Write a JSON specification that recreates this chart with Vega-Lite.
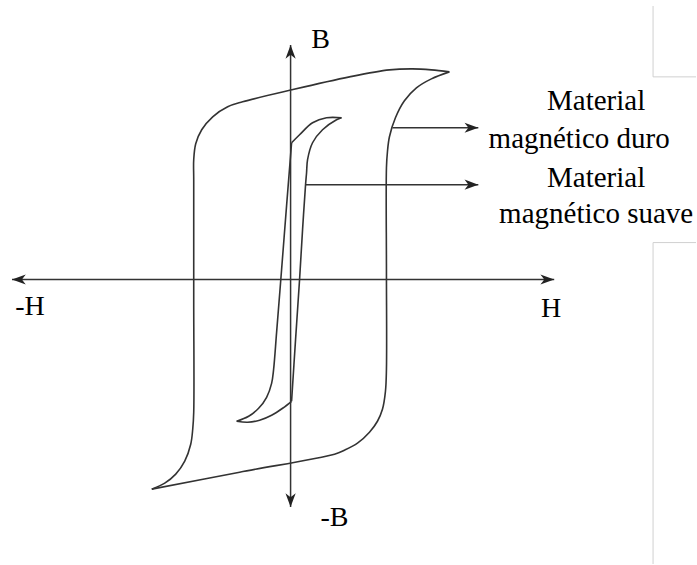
{
  "$schema": "https://vega.github.io/schema/vega-lite/v6.json",
  "width": 697,
  "height": 565,
  "autosize": {"type": "fit", "contains": "padding"},
  "padding": 0,
  "background": "white",
  "view": {"stroke": null},
  "datasets": {
    "curves": [
      {"path": "hard_upper", "i": 0, "H": -139, "B": -210},
      {"path": "hard_upper", "i": 1, "H": -126, "B": -204},
      {"path": "hard_upper", "i": 2, "H": -115, "B": -195},
      {"path": "hard_upper", "i": 3, "H": -106, "B": -182},
      {"path": "hard_upper", "i": 4, "H": -100, "B": -165},
      {"path": "hard_upper", "i": 5, "H": -98, "B": -150},
      {"path": "hard_upper", "i": 6, "H": -97, "B": -133},
      {"path": "hard_upper", "i": 7, "H": -97, "B": -20},
      {"path": "hard_upper", "i": 8, "H": -97, "B": 100},
      {"path": "hard_upper", "i": 9, "H": -97, "B": 120},
      {"path": "hard_upper", "i": 10, "H": -95, "B": 136},
      {"path": "hard_upper", "i": 11, "H": -89, "B": 150},
      {"path": "hard_upper", "i": 12, "H": -78, "B": 163},
      {"path": "hard_upper", "i": 13, "H": -63, "B": 173},
      {"path": "hard_upper", "i": 14, "H": -48, "B": 178},
      {"path": "hard_upper", "i": 15, "H": 1, "B": 190},
      {"path": "hard_upper", "i": 16, "H": 59, "B": 203},
      {"path": "hard_upper", "i": 17, "H": 99, "B": 210},
      {"path": "hard_upper", "i": 18, "H": 122, "B": 211},
      {"path": "hard_upper", "i": 19, "H": 141, "B": 210},
      {"path": "hard_upper", "i": 20, "H": 159, "B": 208},
      {"path": "hard_lower", "i": 0, "H": 159, "B": 208},
      {"path": "hard_lower", "i": 1, "H": 141, "B": 201},
      {"path": "hard_lower", "i": 2, "H": 126, "B": 192},
      {"path": "hard_lower", "i": 3, "H": 114, "B": 179},
      {"path": "hard_lower", "i": 4, "H": 105, "B": 162},
      {"path": "hard_lower", "i": 5, "H": 99, "B": 143},
      {"path": "hard_lower", "i": 6, "H": 97, "B": 128},
      {"path": "hard_lower", "i": 7, "H": 96, "B": 112},
      {"path": "hard_lower", "i": 8, "H": 96, "B": 10},
      {"path": "hard_lower", "i": 9, "H": 96, "B": -90},
      {"path": "hard_lower", "i": 10, "H": 95, "B": -112},
      {"path": "hard_lower", "i": 11, "H": 92, "B": -130},
      {"path": "hard_lower", "i": 12, "H": 87, "B": -142},
      {"path": "hard_lower", "i": 13, "H": 79, "B": -153},
      {"path": "hard_lower", "i": 14, "H": 67, "B": -164},
      {"path": "hard_lower", "i": 15, "H": 54, "B": -171},
      {"path": "hard_lower", "i": 16, "H": 44, "B": -175},
      {"path": "hard_lower", "i": 17, "H": -51, "B": -193},
      {"path": "hard_lower", "i": 18, "H": -139, "B": -210},
      {"path": "soft_top", "i": 0, "H": 51, "B": 162},
      {"path": "soft_top", "i": 1, "H": 36, "B": 162},
      {"path": "soft_top", "i": 2, "H": 22, "B": 157},
      {"path": "soft_top", "i": 3, "H": 9, "B": 145},
      {"path": "soft_top", "i": 4, "H": 1, "B": 137},
      {"path": "soft_left", "i": 0, "H": 1, "B": 137},
      {"path": "soft_left", "i": 1, "H": -4, "B": 74},
      {"path": "soft_left", "i": 2, "H": -9, "B": 10},
      {"path": "soft_left", "i": 3, "H": -14, "B": -53},
      {"path": "soft_left", "i": 4, "H": -17, "B": -90},
      {"path": "soft_left", "i": 5, "H": -19, "B": -104},
      {"path": "soft_left", "i": 6, "H": -24, "B": -118},
      {"path": "soft_left", "i": 7, "H": -32, "B": -129},
      {"path": "soft_left", "i": 8, "H": -42, "B": -137},
      {"path": "soft_left", "i": 9, "H": -54, "B": -142},
      {"path": "soft_bottom", "i": 0, "H": -54, "B": -142},
      {"path": "soft_bottom", "i": 1, "H": -43, "B": -143},
      {"path": "soft_bottom", "i": 2, "H": -31, "B": -141},
      {"path": "soft_bottom", "i": 3, "H": -19, "B": -136},
      {"path": "soft_bottom", "i": 4, "H": -8, "B": -129},
      {"path": "soft_bottom", "i": 5, "H": 1, "B": -122},
      {"path": "soft_right", "i": 0, "H": 1, "B": -122},
      {"path": "soft_right", "i": 1, "H": 5, "B": -60},
      {"path": "soft_right", "i": 2, "H": 9, "B": 0},
      {"path": "soft_right", "i": 3, "H": 12, "B": 50},
      {"path": "soft_right", "i": 4, "H": 15, "B": 95},
      {"path": "soft_right", "i": 5, "H": 16, "B": 107},
      {"path": "soft_right", "i": 6, "H": 17, "B": 120},
      {"path": "soft_right", "i": 7, "H": 22, "B": 137},
      {"path": "soft_right", "i": 8, "H": 32, "B": 150},
      {"path": "soft_right", "i": 9, "H": 46, "B": 160},
      {"path": "soft_right", "i": 10, "H": 51, "B": 162}
    ],
    "segments": [
      {"name": "H axis", "H": -279, "H2": 264, "B": 0, "B2": 0},
      {"name": "B axis", "H": 0, "H2": 0, "B": 235, "B2": -228},
      {"name": "hard pointer", "H": 102, "H2": 188, "B": 152, "B2": 152},
      {"name": "soft pointer", "H": 15, "H2": 188, "B": 95, "B2": 95}
    ],
    "frame": [
      {"H": 363, "H2": 363, "B": 274, "B2": 203},
      {"H": 363, "H2": 406, "B": 203, "B2": 203},
      {"H": 363, "H2": 406, "B": 37, "B2": 37},
      {"H": 363, "H2": 363, "B": 37, "B2": -285}
    ],
    "heads_right": [
      {"H": 188, "B": 152},
      {"H": 188, "B": 95},
      {"H": 264, "B": 0}
    ],
    "heads_left": [{"H": -279, "B": 0}],
    "heads_up": [{"H": 0, "B": 235}],
    "heads_down": [{"H": 0, "B": -228}],
    "axis_labels": [
      {"label": "B", "H": 30, "B": 232},
      {"label": "-B", "H": 44, "B": -247},
      {"label": "-H", "H": -261, "B": -36},
      {"label": "H", "H": 261, "B": -38}
    ],
    "notes": [
      {"label": "Material", "H": 306, "B": 170},
      {"label": "magnético duro", "H": 289, "B": 132},
      {"label": "Material", "H": 306, "B": 93},
      {"label": "magnético suave", "H": 306, "B": 57}
    ]
  },
  "encoding": {
    "x": {"field": "H", "type": "quantitative", "scale": {"domain": [-291, 406], "nice": false, "zero": false}, "axis": null},
    "y": {"field": "B", "type": "quantitative", "scale": {"domain": [-285, 280], "nice": false, "zero": false}, "axis": null}
  },
  "layer": [
    {
      "data": {"name": "frame"},
      "mark": {"type": "rule", "stroke": "#d0d0d0", "strokeWidth": 1},
      "encoding": {"x2": {"field": "H2"}, "y2": {"field": "B2"}}
    },
    {
      "data": {"name": "segments"},
      "mark": {"type": "rule", "stroke": "#333333", "strokeWidth": 1.5},
      "encoding": {"x2": {"field": "H2"}, "y2": {"field": "B2"}}
    },
    {
      "data": {"name": "curves"},
      "mark": {"type": "line", "interpolate": "catmull-rom", "stroke": "#333333", "strokeWidth": 1.6},
      "encoding": {
        "detail": {"field": "path", "type": "nominal"},
        "order": {"field": "i", "type": "quantitative"}
      }
    },
    {
      "data": {"name": "heads_right"},
      "mark": {"type": "point", "shape": "M0,0 L-1,-0.37 L-0.72,0 L-1,0.37 Z", "filled": true, "size": 760, "color": "#222222", "opacity": 1, "angle": 0}
    },
    {
      "data": {"name": "heads_left"},
      "mark": {"type": "point", "shape": "M0,0 L-1,-0.37 L-0.72,0 L-1,0.37 Z", "filled": true, "size": 760, "color": "#222222", "opacity": 1, "angle": 180}
    },
    {
      "data": {"name": "heads_up"},
      "mark": {"type": "point", "shape": "M0,0 L-1,-0.37 L-0.72,0 L-1,0.37 Z", "filled": true, "size": 760, "color": "#222222", "opacity": 1, "angle": 270}
    },
    {
      "data": {"name": "heads_down"},
      "mark": {"type": "point", "shape": "M0,0 L-1,-0.37 L-0.72,0 L-1,0.37 Z", "filled": true, "size": 760, "color": "#222222", "opacity": 1, "angle": 90}
    },
    {
      "data": {"name": "axis_labels"},
      "mark": {"type": "text", "font": "Liberation Serif", "fontSize": 28, "color": "#000000", "align": "center", "baseline": "alphabetic"},
      "encoding": {"text": {"field": "label"}}
    },
    {
      "data": {"name": "notes"},
      "mark": {"type": "text", "font": "Liberation Serif", "fontSize": 29, "color": "#000000", "align": "center", "baseline": "alphabetic"},
      "encoding": {"text": {"field": "label"}}
    }
  ]
}
